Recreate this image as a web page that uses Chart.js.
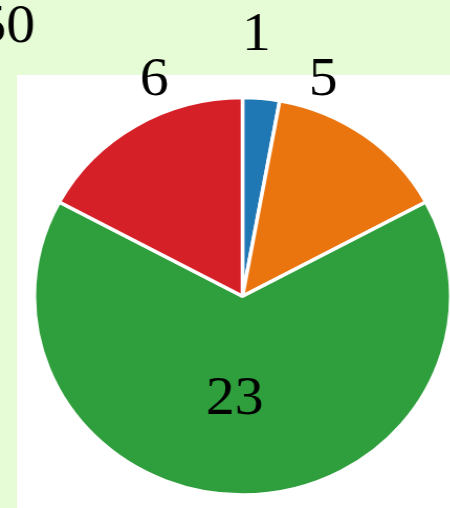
<!DOCTYPE html>
<html>
<head>
<meta charset="utf-8">
<script src="https://cdn.jsdelivr.net/npm/chart.js@4/dist/chart.umd.min.js"></script>
<style>
  html, body { margin: 0; padding: 0; }
  body { width: 450px; height: 508px; overflow: hidden; background: #e6fcd6; position: relative; }
  #panel { position: absolute; left: 17px; top: 75px; right: 0; bottom: 0; background: #ffffff; }
  #wrap { position: absolute; left: 0; top: 0; width: 432px; height: 508px; transform: scaleX(1.0476); transform-origin: 0 0; }
</style>
</head>
<body>
<div id="panel"></div>
<div id="wrap"><canvas id="c"></canvas></div>
<script>
// ---- data ----
const categories = ["A", "B", "C", "D"];
const values = [1, 5, 23, 6];
const sliceColors = ["#1f77b4", "#ea750e", "#2f9e3c", "#d62027"];
const cornerText = "50";

// label placement: angle offset (deg, from slice middle) and radius factor
const labelPlacement = [
  { dAngle: -2.3, rFactor: 1.335 },
  { dAngle: -16.7, rFactor: 1.172 },
  { dAngle: 4.4, rFactor: 0.5 },
  { dAngle: 9.9, rFactor: 1.184 }
];
const FONT_SIZE = 55;
const FONT = FONT_SIZE + 'px "Liberation Serif", "Times New Roman", Times, serif';

const labelPlugin = {
  id: 'sliceLabels',
  afterDatasetsDraw(chart) {
    const ctx = chart.ctx;
    const meta = chart.getDatasetMeta(0);
    ctx.save();
    ctx.font = FONT;
    ctx.fillStyle = '#000000';
    ctx.textAlign = 'center';
    ctx.textBaseline = 'alphabetic';
    meta.data.forEach((arc, i) => {
      const p = arc.getProps(['x', 'y', 'startAngle', 'endAngle', 'outerRadius'], true);
      const ang = (p.startAngle + p.endAngle) / 2 + labelPlacement[i].dAngle * Math.PI / 180;
      const r = p.outerRadius * labelPlacement[i].rFactor;
      const x = p.x + Math.cos(ang) * r;
      const y = p.y + Math.sin(ang) * r;
      ctx.fillText(String(values[i]), x, y + FONT_SIZE * 0.338);
    });
    ctx.textAlign = 'right';
    ctx.fillText(cornerText, 33.5, 23 + FONT_SIZE * 0.338);
    ctx.restore();
  }
};

function build() {
  new Chart(document.getElementById('c'), {
    type: 'pie',
    data: {
      labels: categories,
      datasets: [{
        data: values,
        backgroundColor: sliceColors,
        borderColor: '#ffffff',
        borderWidth: 3.5
      }]
    },
    options: {
      responsive: true,
      maintainAspectRatio: false,
      animation: false,
      layout: { padding: { left: 31, right: 0, top: 95.5, bottom: 11 } },
      plugins: {
        legend: { display: false },
        tooltip: { enabled: false },
        title: { display: false }
      }
    },
    plugins: [labelPlugin]
  });
}

if (document.fonts && document.fonts.load) {
  document.fonts.load(FONT, '0123456789').then(build, build);
} else {
  build();
}
</script>
</body>
</html>
